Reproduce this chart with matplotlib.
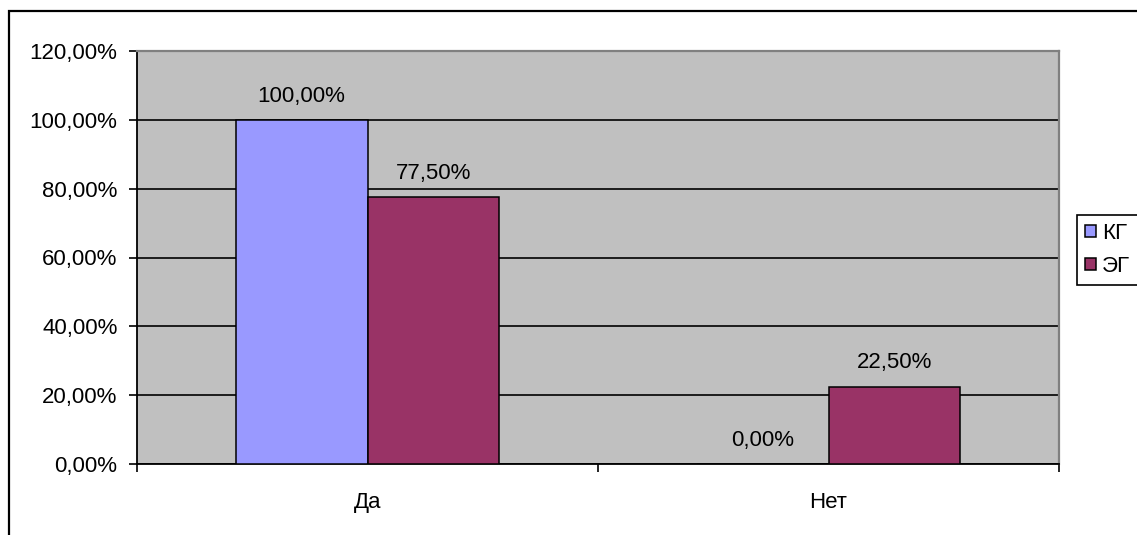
import matplotlib.pyplot as plt
from matplotlib.patches import Rectangle
from matplotlib.ticker import FixedLocator, FuncFormatter
import numpy as np

plt.rcParams['font.family'] = ['Liberation Sans', 'DejaVu Sans']

categories = ['Да', 'Нет']
kg_values = [100.0, 0.0]
eg_values = [77.5, 22.5]
series_names = ['КГ', 'ЭГ']
kg_color = '#9999FF'
eg_color = '#993366'

def pct(v):
    return '{:.2f}%'.format(v).replace('.', ',')

fig = plt.figure(figsize=(11.37, 5.35), dpi=100)
ax = fig.add_axes([137 / 1137, 1 - 464 / 535, (1059 - 137) / 1137, (464 - 51) / 535])
ax.set_facecolor('#C0C0C0')

x = np.arange(len(categories))
w = 1 / 3.5
b1 = ax.bar(x - w / 2, kg_values, w, color=kg_color, edgecolor='black', linewidth=1.1, label=series_names[0], zorder=3)
b2 = ax.bar(x + w / 2, eg_values, w, color=eg_color, edgecolor='black', linewidth=1.1, label=series_names[1], zorder=3)

for bars, vals in ((b1, kg_values), (b2, eg_values)):
    for rect, v in zip(bars, vals):
        ax.annotate(pct(v), (rect.get_x() + rect.get_width() / 2, v),
                    xytext=(0, 9.5), textcoords='offset points',
                    ha='center', va='bottom', fontsize=16)

ax.set_xlim(-0.5, len(categories) - 0.5)
ax.set_ylim(0, 120)
ax.set_yticks(np.arange(0, 121, 20))
ax.yaxis.set_major_formatter(FuncFormatter(lambda v, _: pct(v)))
ax.yaxis.grid(True, color='black', linewidth=1.2, zorder=1)
ax.set_axisbelow(True)

# category labels in the middle, tick marks on the boundaries
ax.set_xticks(x)
ax.set_xticklabels(categories)
ax.xaxis.set_minor_locator(FixedLocator(np.arange(-0.5, len(categories), 1.0)))
ax.tick_params(axis='x', which='major', length=0, pad=20, labelsize=16)
ax.tick_params(axis='x', which='minor', length=6, width=1.2, direction='out')
ax.tick_params(axis='y', length=6, width=1.2, direction='out', pad=8, labelsize=16)

for side in ('left', 'bottom'):
    ax.spines[side].set_color('black')
    ax.spines[side].set_linewidth(1.3)
for side in ('top', 'right'):
    ax.spines[side].set_color('#808080')
    ax.spines[side].set_linewidth(1.6)

leg = fig.legend(loc='upper left', bbox_to_anchor=(1077 / 1137, 1 - 215 / 535),
                 frameon=True, fancybox=False, edgecolor='black', framealpha=1,
                 fontsize=16, handlelength=0.5, handleheight=0.5, handletextpad=0.27,
                 borderpad=0.35, labelspacing=0.55, borderaxespad=0)
leg.get_frame().set_linewidth(1.2)

# outer chart frame
fig.patches.append(Rectangle((9 / 1137, -0.1), 1.2, 1.1 - 11 / 535, transform=fig.transFigure,
                             fill=False, edgecolor='black', linewidth=1.6))

fig.savefig('out.png', dpi=100)
